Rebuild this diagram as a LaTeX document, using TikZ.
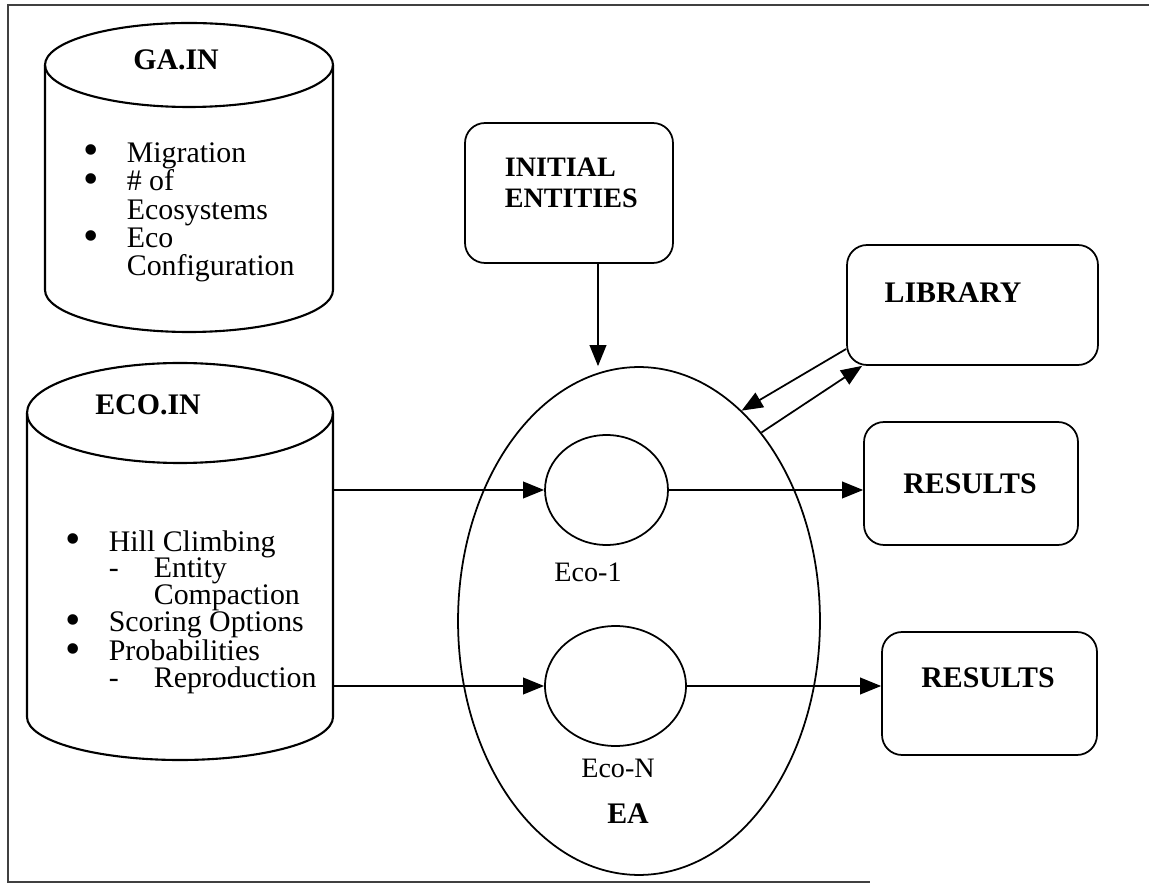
\documentclass[tikz,border=0pt]{standalone}
\usepackage{fontspec}
\setmainfont{Liberation Serif}
\usetikzlibrary{arrows.meta, shapes.geometric}
\newcommand{\listbullet}{\makebox[0.86cm][l]{\raisebox{-1.5pt}{\fontsize{25}{0}\selectfont\textbullet}}}

\begin{document}
\begin{tikzpicture}[x = 0.02cm, y = -0.02cm, line width = 1pt,
  box/.style = {draw, rounded corners = 0.4cm, inner sep = 0pt},
  hd/.style = {font = \fontsize{17}{18}\selectfont\bfseries, inner sep = 0pt},
  lst/.style = {align = left, anchor = north west, inner sep = 0pt},
  arr/.style = {-{Triangle[length = 12pt, width = 9.5pt]}}]
\useasboundingbox (0, 0) rectangle (1149, 884);
% frame
\draw[color = black!75, line width = 1.2pt] (1149, 5) -- (8, 5) -- (8, 882) -- (870, 882);

% GA.IN cylinder
\draw[line width = 1.2pt] (45, 65) -- (45, 290) arc[start angle = 180, end angle = 0, x radius = 144, y radius = 42] -- (333, 65);
\draw[line width = 1.2pt] (189, 65) ellipse [x radius = 144, y radius = 42];
\node[hd, anchor = base] (gain) at (176, 70) {GA.IN};
\node[lst, font = \fontsize{17}{16.2}\selectfont] (galist) at (83, 141.5)
  {\listbullet Migration\\
   \listbullet\# of\\
   \hspace*{0.86cm}Ecosystems\\
   \listbullet Eco\\
   \hspace*{0.86cm}Configuration};

% ECO.IN cylinder
\draw[line width = 1.2pt] (27, 413) -- (27, 717) arc[start angle = 180, end angle = 0, x radius = 153, y radius = 43] -- (333, 413);
\draw[line width = 1.2pt] (180, 413) ellipse [x radius = 153, y radius = 50];
\node[hd, anchor = base] (ecoin) at (148, 415) {ECO.IN};
\node[lst, font = \fontsize{17}{15.3}\selectfont] (ecolist) at (65, 529.5)
  {\listbullet Hill Climbing\\
   \hspace*{0.86cm}\makebox[0.9cm][l]{-}Entity\\
   \hspace*{1.76cm}Compaction\\
   \listbullet Scoring Options\\
   \listbullet Probabilities\\
   \hspace*{0.86cm}\makebox[0.9cm][l]{-}Reproduction};
\coordinate (ecoinA) at (333, 490);
\coordinate (ecoinB) at (333, 686);

% boxes
\node[box, minimum width = 4.16cm, minimum height = 2.8cm] (init) at (569, 193) {};
\node[lst, font = \fontsize{16}{17.6}\selectfont\bfseries] (inittxt) at (504, 157) {INITIAL\\ENTITIES};
\node[box, minimum width = 5.02cm, minimum height = 2.4cm] (lib) at (972.5, 305) {};
\node[hd, anchor = base] (libtxt) at (953, 303) {LIBRARY};
\node[box, minimum width = 4.28cm, minimum height = 2.46cm] (resa) at (971, 483.5) {};
\node[hd, anchor = base] (resatxt) at (970, 494) {RESULTS};
\node[box, minimum width = 4.3cm, minimum height = 2.46cm] (resb) at (989.5, 693.5) {};
\node[hd, anchor = base] (resbtxt) at (988, 687) {RESULTS};

% EA and ecosystems
\node[ellipse, draw, inner sep = 0pt, minimum width = 7.24cm, minimum height = 10.16cm] (ea) at (639, 621) {};
\node[ellipse, draw, inner sep = 0pt, minimum width = 2.46cm, minimum height = 2.2cm] (ecoa) at (606.5, 490) {};
\node[ellipse, draw, inner sep = 0pt, minimum width = 2.82cm, minimum height = 2.4cm] (ecob) at (615.5, 686) {};
\node[font = \fontsize{16}{18}\selectfont] (ecoalbl) at (588, 572) {Eco-1};
\node[font = \fontsize{16}{18}\selectfont] (ecoblbl) at (618, 768) {Eco-N};
\node[hd] (ealbl) at (628, 814) {EA};

% connectors
\draw[arr] ([xshift = 0.58cm]init.south) -- ([xshift = 0.58cm]init.south |- ea.north);
\draw[arr] (ecoinA) -- (ecoa.west);
\draw[arr] (ecoinB) -- (ecob.west);
\draw[arr] (ecoa.east) -- (ecoa.east -| resa.west);
\draw[arr] (ecob.east) -- (ecob.east -| resb.west);
\draw[arr] ([yshift = -0.88cm]lib.west) -- (ea.64);
\draw[arr] (ea.57.5) -- ([xshift = 0.32cm]lib.south west);
\end{tikzpicture}
\end{document}
